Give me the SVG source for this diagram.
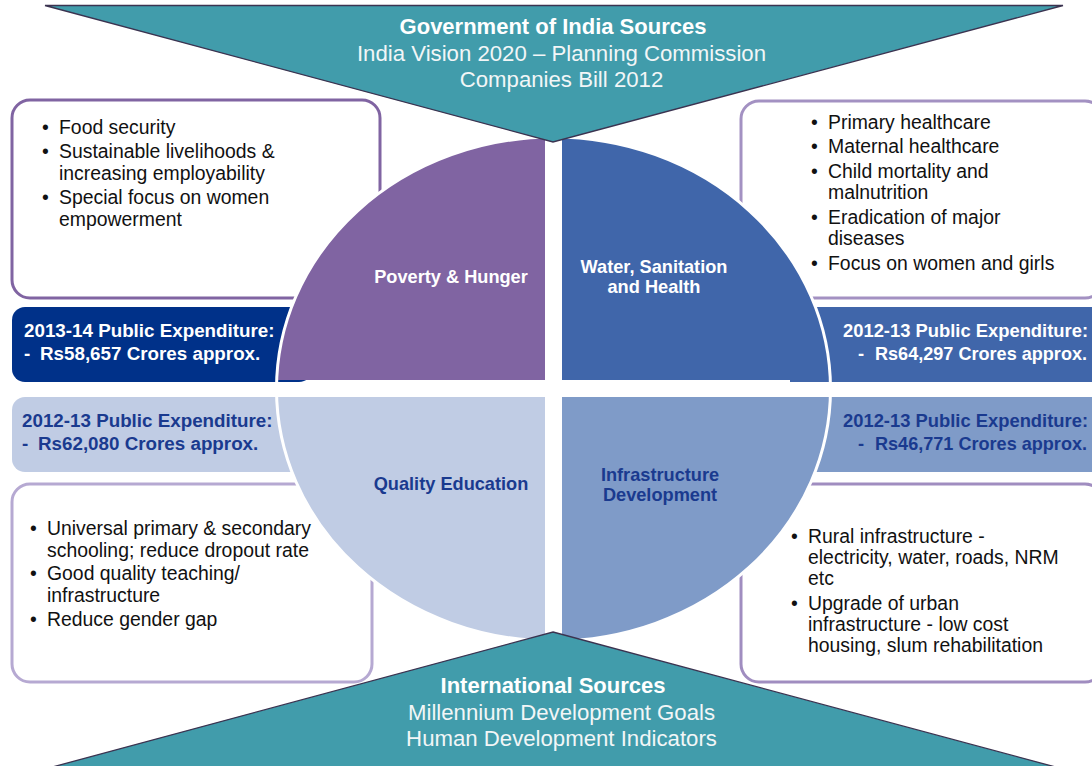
<svg xmlns="http://www.w3.org/2000/svg" width="1092" height="766" viewBox="0 0 1092 766">
<style>
  text { font-family: "Liberation Sans", Arial, sans-serif; }
  .box { fill: #ffffff; stroke-width: 3; }
  .item { font-size: 19.4px; fill: #111111; }
  .exp { font-size: 18.8px; font-weight: bold; }
  .expr { font-size: 18.4px; font-weight: bold; }
  .expw { fill: #ffffff; }
  .expn { fill: #1a3a8f; }
  .qlab { font-size: 18.2px; font-weight: bold; text-anchor: middle; }
  .tri { fill: #419cab; stroke: #3b3350; stroke-width: 1.3; stroke-linejoin: miter; }
  .th { font-size: 22px; font-weight: bold; fill: #ffffff; text-anchor: middle; }
  .tr { font-size: 22.2px; fill: #f2f6f7; text-anchor: middle; }
</style>
<rect width="1092" height="766" fill="#ffffff"/>

<g id="box-poverty">
  <rect class="box" x="12" y="100" width="368" height="198" rx="18" stroke="#8064a2"/>
  <text class="item"><tspan x="42" y="134">•</tspan><tspan x="59" y="134">Food security</tspan>
    <tspan x="42" y="158">•</tspan><tspan x="59" y="158">Sustainable livelihoods &amp;</tspan>
    <tspan x="59" y="180">increasing employability</tspan>
    <tspan x="42" y="204">•</tspan><tspan x="59" y="204">Special focus on women</tspan>
    <tspan x="59" y="226">empowerment</tspan></text>
</g>

<g id="box-water">
  <rect class="box" x="741" y="101" width="362" height="197" rx="18" stroke="#a391c2"/>
  <text class="item"><tspan x="811" y="129">•</tspan><tspan x="828" y="129">Primary healthcare</tspan>
    <tspan x="811" y="153">•</tspan><tspan x="828" y="153">Maternal healthcare</tspan>
    <tspan x="811" y="178">•</tspan><tspan x="828" y="178">Child mortality and</tspan>
    <tspan x="828" y="199">malnutrition</tspan>
    <tspan x="811" y="224">•</tspan><tspan x="828" y="224">Eradication of major</tspan>
    <tspan x="828" y="245">diseases</tspan>
    <tspan x="811" y="270">•</tspan><tspan x="828" y="270">Focus on women and girls</tspan></text>
</g>

<g id="box-education">
  <rect class="box" x="12" y="484" width="360" height="198" rx="18" stroke="#b6a9d2"/>
  <text class="item"><tspan x="30" y="535">•</tspan><tspan x="47" y="535">Universal primary &amp; secondary</tspan>
    <tspan x="47" y="557">schooling; reduce dropout rate</tspan>
    <tspan x="30" y="580">•</tspan><tspan x="47" y="580">Good quality teaching/</tspan>
    <tspan x="47" y="602">infrastructure</tspan>
    <tspan x="30" y="626">•</tspan><tspan x="47" y="626">Reduce gender gap</tspan></text>
</g>

<g id="box-infrastructure">
  <rect class="box" x="741" y="484" width="362" height="198" rx="18" stroke="#a08dc0"/>
  <text class="item"><tspan x="791" y="543">•</tspan><tspan x="808" y="543">Rural infrastructure -</tspan>
    <tspan x="808" y="564">electricity, water, roads, NRM</tspan>
    <tspan x="808" y="585">etc</tspan>
    <tspan x="791" y="610">•</tspan><tspan x="808" y="610">Upgrade of urban</tspan>
    <tspan x="808" y="631">infrastructure - low cost</tspan>
    <tspan x="808" y="652">housing, slum rehabilitation</tspan></text>
</g>

<g id="exp-poverty">
  <rect x="12" y="307" width="300" height="75" rx="13" fill="#003189"/>
  <text class="exp expw"><tspan x="24" y="337">2013-14 Public Expenditure:</tspan><tspan x="24" y="360">-</tspan><tspan x="40" y="360">Rs58,657 Crores approx.</tspan></text>
</g>
<g id="exp-education">
  <rect x="12" y="397" width="300" height="75" rx="13" fill="#c0cce4"/>
  <text class="exp expn"><tspan x="22" y="427">2012-13 Public Expenditure:</tspan><tspan x="22" y="450">-</tspan><tspan x="38" y="450">Rs62,080 Crores approx.</tspan></text>
</g>
<g id="exp-water">
  <rect x="790" y="307" width="320" height="75" fill="#4066aa"/>
  <text class="expr expw"><tspan x="843" y="337" textLength="245" lengthAdjust="spacingAndGlyphs">2012-13 Public Expenditure:</tspan><tspan x="858" y="360">-</tspan><tspan x="875" y="360" textLength="212" lengthAdjust="spacingAndGlyphs">Rs64,297 Crores approx.</tspan></text>
</g>
<g id="exp-infrastructure">
  <rect x="790" y="397" width="320" height="75" fill="#7f9bc8"/>
  <text class="expr expn"><tspan x="843" y="427" textLength="245" lengthAdjust="spacingAndGlyphs">2012-13 Public Expenditure:</tspan><tspan x="858" y="450">-</tspan><tspan x="875" y="450" textLength="212" lengthAdjust="spacingAndGlyphs">Rs46,771 Crores approx.</tspan></text>
</g>

<g id="quadrant-poverty">
  <path d="M545,380 L545,137.1 A277,252 0 0 0 276.7,380 Z" fill="#8064a2"/>
  <text class="qlab" fill="#ffffff" x="451" y="283">Poverty &amp; Hunger</text>
</g>
<g id="quadrant-water">
  <path d="M562,380 L562,137.1 A277,252 0 0 1 830.3,380 Z" fill="#4066aa"/>
  <text class="qlab" fill="#ffffff"><tspan x="654" y="273">Water, Sanitation</tspan><tspan x="654" y="293">and Health</tspan></text>
</g>
<g id="quadrant-education">
  <path d="M545,397 L276.6,397 A277,252 0 0 0 545,640.9 Z" fill="#c0cce4"/>
  <text class="qlab" fill="#1a3a8f" x="451" y="490">Quality Education</text>
</g>
<g id="quadrant-infrastructure">
  <path d="M562,397 L830.4,397 A277,252 0 0 1 562,640.9 Z" fill="#7f9bc8"/>
  <text class="qlab" fill="#1a3a8f"><tspan x="660" y="481">Infrastructure</tspan><tspan x="660" y="501">Development</tspan></text>
</g>
<ellipse cx="553.5" cy="389" rx="277" ry="252" fill="none" stroke="#ffffff" stroke-width="3"/>

<g id="gov-sources">
  <polygon class="tri" points="45,5.5 1063,5.5 553,142"/>
  <text class="th" x="553" y="34">Government of India Sources</text>
  <text class="tr" x="561.5" y="61">India Vision 2020 – Planning Commission</text>
  <text class="tr" x="561.5" y="87">Companies Bill 2012</text>
</g>
<g id="intl-sources">
  <polygon class="tri" points="553,632 1063,769 45,769"/>
  <text class="th" x="553" y="693">International Sources</text>
  <text class="tr" x="561.5" y="720">Millennium Development Goals</text>
  <text class="tr" x="561.5" y="746">Human Development Indicators</text>
</g>
</svg>
